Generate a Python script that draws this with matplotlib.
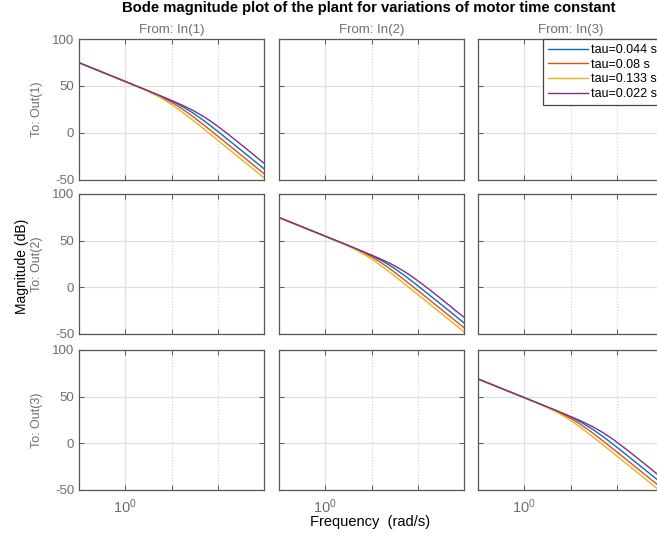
import matplotlib
matplotlib.use("Agg")
import matplotlib.pyplot as plt
from matplotlib.ticker import FixedLocator, NullFormatter

plt.rcParams['font.family'] = ['Liberation Sans', 'DejaVu Sans']
plt.rcParams['mathtext.fontset'] = 'custom'
plt.rcParams['mathtext.rm'] = 'Liberation Sans'
plt.rcParams['mathtext.it'] = 'Liberation Sans'
plt.rcParams['axes.unicode_minus'] = False

freq = [0.1, 1, 2, 3, 5, 7, 10, 15, 20, 30, 50, 70, 100, 150, 200, 300, 500, 700, 1000]

tau_labels = ['tau=0.044 s', 'tau=0.08 s', 'tau=0.133 s', 'tau=0.022 s']
colors = ['#0072BD', '#D95319', '#EDB120', '#7E2F8E']

# In(1)->Out(1) and In(2)->Out(2), magnitude in dB
mag_a_044 = [74.8, 54.79, 48.75, 45.19, 40.62, 37.51, 34.03, 29.71, 26.29, 20.88,
             13.16, 7.69, 1.71, -5.21, -10.17, -17.18, -26.04, -31.88, -38.07]
mag_a_080 = [74.8, 54.77, 48.67, 45.02, 40.18, 36.72, 32.65, 27.41, 23.27, 16.96,
             8.52, 2.80, -3.33, -10.33, -15.32, -22.35, -31.22, -37.07, -43.26]
mag_a_133 = [74.8, 54.72, 48.48, 44.62, 39.23, 35.19, 30.38, 24.31, 19.71, 12.98,
             4.27, -1.53, -7.70, -14.73, -19.72, -26.76, -35.64, -41.48, -47.68]
mag_a_022 = [74.8, 54.80, 48.77, 45.24, 40.77, 37.80, 34.60, 30.83, 28.01, 23.69,
             17.38, 12.62, 7.14, 0.53, -4.31, -11.23, -20.04, -26.04, -32.06]

# In(3)->Out(3), magnitude in dB
mag_b_044 = [69.0, 48.99, 42.95, 39.39, 34.82, 31.71, 28.23, 23.91, 20.49, 15.08,
             7.36, 1.89, -4.09, -11.01, -15.97, -22.98, -31.84, -37.68, -43.87]
mag_b_080 = [69.0, 48.97, 42.87, 39.22, 34.38, 30.92, 26.85, 21.61, 17.47, 11.16,
             2.72, -3.00, -9.13, -16.13, -21.12, -28.15, -37.02, -42.87, -49.06]
mag_b_133 = [69.0, 48.92, 42.68, 38.82, 33.43, 29.39, 24.58, 18.51, 13.91, 7.18,
             -1.53, -7.33, -13.50, -20.53, -25.52, -32.56, -41.44, -47.28, -53.48]
mag_b_022 = [69.0, 49.00, 42.97, 39.44, 34.97, 32.00, 28.80, 25.03, 22.21, 17.89,
             11.58, 6.82, 1.34, -5.27, -10.11, -17.03, -25.84, -31.84, -37.86]

mags_a = [mag_a_044, mag_a_080, mag_a_133, mag_a_022]
mags_b = [mag_b_044, mag_b_080, mag_b_133, mag_b_022]
diag_data = {0: mags_a, 1: mags_a, 2: mags_b}

W, H = 657, 540
fig = plt.figure(figsize=(W / 100, H / 100), dpi=100)

col_left = [79, 279, 478]
col_w = 185
row_top = [39, 194, 350]
row_h = [141, 140, 140]

gray = '#6e6e6e'
spine = '#555555'

axes = {}
for r in range(3):
    for c in range(3):
        ax = fig.add_axes([col_left[c] / W, 1 - (row_top[r] + row_h[r]) / H,
                           col_w / W, row_h[r] / H])
        axes[(r, c)] = ax
        ax.set_xscale('log')
        ax.set_xlim(0.1, 1000)
        ax.set_ylim(-50, 100)
        ax.set_yticks([-50, 0, 50, 100])
        ax.xaxis.set_major_locator(FixedLocator([1]))
        ax.xaxis.set_minor_locator(FixedLocator([10, 100]))
        ax.xaxis.set_minor_formatter(NullFormatter())
        ax.set_xticklabels(['$10^{0}$'])
        ax.grid(True, which='major', color='#e0e0e0', lw=0.9, ls='-')
        ax.grid(True, which='minor', axis='x', color='#d0d0d0', lw=0.8, ls=':')
        ax.set_axisbelow(True)
        ax.tick_params(which='both', direction='in', top=True, right=True,
                       color=spine, labelcolor=gray, labelsize=9.5, length=3.5, width=0.7)
        ax.tick_params(axis='x', labelsize=10.5, pad=5)
        for s in ax.spines.values():
            s.set_color(spine)
            s.set_linewidth(0.9)
        if c != 0:
            ax.tick_params(labelleft=False)
        if r != 2:
            ax.tick_params(labelbottom=False)
        if r == c:
            for mag, col, lab in zip(diag_data[r], colors, tau_labels):
                ax.plot(freq, mag, color=col, lw=1.0, label=lab)

for c in range(3):
    fig.text((col_left[c] + col_w / 2) / W, 1 - 30 / H, 'From: In(%d)' % (c + 1),
             ha='center', va='center', fontsize=9.5, color=gray)
for r in range(3):
    fig.text(37 / W, 1 - (row_top[r] + row_h[r] / 2) / H, 'To: Out(%d)' % (r + 1),
             ha='center', va='center', rotation=90, fontsize=9, color=gray)

fig.text(22 / W, 1 - 266 / H, 'Magnitude (dB)', ha='center', va='center',
         rotation=90, fontsize=10, color='black')
fig.text(370 / W, 1 - 522 / H, 'Frequency  (rad/s)', ha='center', va='center',
         fontsize=10.5, color='black')
fig.text(369 / W, 1 - 8 / H,
         'Bode magnitude plot of the plant for variations of motor time constant',
         ha='center', va='center', fontsize=10.7, fontweight='bold', color='black')

handles, labels = axes[(0, 0)].get_legend_handles_labels()
leg = axes[(0, 2)].legend(handles, labels, loc='upper left',
                          bbox_to_anchor=((543 - 478) / col_w, 1.0),
                          fontsize=9, frameon=True, fancybox=False, framealpha=1,
                          edgecolor='#444444', handlelength=3.2, handletextpad=0.25,
                          labelspacing=0.22, borderpad=0.4, borderaxespad=0)
leg.get_frame().set_linewidth(0.9)

fig.savefig('out.png', dpi=100)
